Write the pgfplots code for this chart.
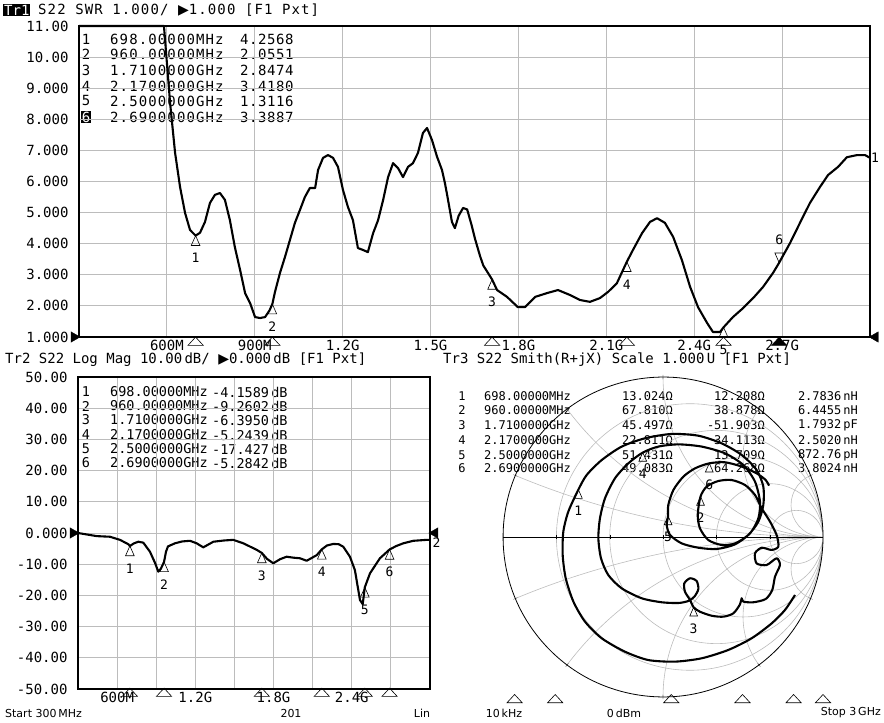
\documentclass[border=0pt]{standalone}
\usepackage{fontspec}
\setmainfont{DejaVu Sans}
\newfontfamily\mono{DejaVu Sans Mono}
\newfontfamily\symf{DejaVu Sans}
\usepackage{pgfplots}
\pgfplotsset{compat=1.18}
\usepgfplotslibrary{smithchart}
\definecolor{gridgray}{RGB}{188,188,188}
\newcommand\mt{\mono\fontsize{14}{16}\selectfont}
\newcommand\bt{\mono\fontsize{13.5}{16}\selectfont}
\newcommand\st{\mono\fontsize{12}{14}\selectfont}
\pgfplotsset{
  vna/.style={
    scale only axis, anchor=south west, clip=false,
    axis line style={black, line width=1.3pt},
    grid=major, major grid style={gridgray, line width=0.8pt},
    major tick length=0pt, tick style={draw=none},
    ticklabel style={font=\mt},
    yticklabel style={xshift=-7pt},
    xmin=300, xmax=3000, xtick={600,900,...,2700},
  },
  trace/.style={black, line width=2.1pt, line join=round},
  mk/.style={only marks, mark=triangle, mark size=5pt,
    mark options={yshift=-6.5pt, yscale=1.3, fill=white, line width=0.6pt, draw=black},
    nodes near coords, point meta=explicit symbolic,
    every node near coord/.style={anchor=north, yshift=-10pt, font=\mono\fontsize{13}{14}\selectfont, inner sep=1pt}},
  rowmk/.style={only marks, mark=triangle, mark size=5.5pt, mark options={xscale=1.6, fill=white, line width=0.6pt, draw=black}},
}
\begin{document}
\begin{tikzpicture}[x=1pt,y=1pt]
\useasboundingbox (0,0) rectangle (884,723);
% ---------------- titles and tables ----------------
\node[fill=black, text=white, inner sep=1pt, anchor=west] at (3,713) {\mt Tr1};
\node[anchor=west, inner sep=0pt] at (38,713) {\mt\addfontfeature{LetterSpace=8} S22 SWR 1.000/ {\symf▶}1.000 [F1 Pxt]};
\node[anchor=west, inner sep=0pt] at (5,363) {\mt Tr2 S22 Log Mag 10.00\,dB/ {\symf▶}0.000\,dB [F1 Pxt]};
\node[anchor=west, inner sep=0pt] at (443,363) {\mt Tr3 S22 Smith(R+jX) Scale 1.000\,U [F1 Pxt]};
% top table
\foreach \n/\f/\v/\y in {1/698.00000MHz/4.2568/684, 2/960.00000MHz/2.0551/669, 3/1.7100000GHz/2.8474/653, 4/2.1700000GHz/3.4180/637, 5/2.5000000GHz/1.3116/622}{
  \node[inner sep=0pt] at (86,\y) {\mt \n};
  \node[anchor=west, inner sep=0pt] at (110,\y) {\mt\addfontfeature{LetterSpace=8} \f};
  \node[anchor=west, inner sep=0pt] at (240,\y) {\mt\addfontfeature{LetterSpace=4} \v};
}
\node[fill=black, text=white, inner sep=0.5pt] at (86,606) {\mt 6};
\node[anchor=west, inner sep=0pt] at (110,606) {\mt\addfontfeature{LetterSpace=8} 2.6900000GHz};
\node[anchor=west, inner sep=0pt] at (240,606) {\mt\addfontfeature{LetterSpace=4} 3.3887};
% bottom-left table
\foreach \n/\f/\v/\y in {1/698.00000MHz/-4.1589/331, 2/960.00000MHz/-9.2602/317, 3/1.7100000GHz/-6.3950/303, 4/2.1700000GHz/-5.2439/288, 5/2.5000000GHz/-17.427/274, 6/2.6900000GHz/-5.2842/260}{
  \node[inner sep=0pt] at (86,\y) {\bt \n};
  \node[anchor=west, inner sep=0pt] at (110,\y) {\bt \f};
  \node[anchor=west, inner sep=0pt] at (212,\y) {\bt \v\,dB};
}
% smith table
\foreach \n/\f/\r/\xx/\l/\y in {1/698.00000MHz/13.024/12.208/2.7836\,nH/327, 2/960.00000MHz/67.810/38.878/6.4455\,nH/313, 3/1.7100000GHz/45.497/-51.903/1.7932\,pF/298, 4/2.1700000GHz/22.811/34.113/2.5020\,nH/283, 5/2.5000000GHz/51.431/13.709/872.76\,pH/268, 6/2.6900000GHz/49.083/64.268/3.8024\,nH/255}{
  \node[inner sep=0pt] at (462,\y) {\st \n};
  \node[anchor=west, inner sep=0pt] at (484,\y) {\st \f};
  \node[anchor=east, inner sep=0pt] at (673,\y) {\st \r Ω};
  \node[anchor=east, inner sep=0pt] at (765,\y) {\st \xx Ω};
  \node[anchor=east, inner sep=0pt] at (858,\y) {\st \l};
}
% bottom line
\node[anchor=west, inner sep=0pt] at (5,10) {\fontsize{11}{12}\selectfont Start 300\,MHz};
\node[inner sep=0pt] at (291,10) {\fontsize{11}{12}\selectfont 201};
\node[inner sep=0pt] at (422,10) {\fontsize{11}{12}\selectfont Lin};
\node[inner sep=0pt] at (504,10) {\fontsize{11}{12}\selectfont 10\,kHz};
\node[inner sep=0pt] at (624,10) {\fontsize{11}{12}\selectfont 0\,dBm};
\node[anchor=east, inner sep=0pt] at (881,10) {\fontsize{11}{12}\selectfont Stop 3\,GHz};

% ---------------- Tr1: SWR ----------------
\begin{axis}[vna, at={(79pt,386pt)}, width=791pt, height=311pt,
  ymin=1, ymax=11, ytick={1,2,...,11},
  xticklabels={600M,900M,1.2G,1.5G,1.8G,2.1G,2.4G,2.7G},
  yticklabels={1.000,2.000,3.000,4.000,5.000,6.000,7.000,8.000,9.000,10.00,11.00}]
\addplot[trace] table[row sep=\\] {
f swr\\
300 11\\ 590 11\\ 611 8.52\\ 628 6.92\\ 645 5.82\\ 662 4.99\\ 679 4.44\\ 698 4.26\\
713 4.35\\ 730 4.70\\ 747 5.31\\ 764 5.57\\ 781 5.63\\ 798 5.41\\ 815 4.76\\ 832 3.89\\
850 3.15\\ 867 2.41\\ 884 2.09\\ 901 1.64\\ 918 1.61\\ 935 1.64\\ 950 1.85\\ 960 2.06\\
969 2.45\\ 986 3.06\\ 1003 3.57\\ 1020 4.12\\ 1037 4.67\\ 1054 5.08\\ 1071 5.50\\ 1088 5.79\\
1106 5.79\\ 1116 6.37\\ 1133 6.76\\ 1150 6.85\\ 1167 6.76\\ 1184 6.47\\ 1201 5.73\\ 1218 5.18\\
1235 4.76\\ 1252 3.86\\ 1269 3.80\\ 1286 3.73\\ 1304 4.34\\ 1321 4.76\\ 1338 5.40\\ 1355 6.14\\
1372 6.59\\ 1389 6.43\\ 1406 6.14\\ 1423 6.47\\ 1440 6.59\\ 1457 6.92\\ 1474 7.56\\ 1488 7.72\\
1505 7.33\\ 1522 6.80\\ 1539 6.37\\ 1549 5.95\\ 1556 5.60\\ 1573 4.70\\ 1583 4.50\\ 1596 4.90\\
1611 5.15\\ 1625 5.10\\ 1640 4.60\\ 1652 4.15\\ 1669 3.60\\ 1680 3.30\\ 1710 2.85\\ 1727 2.51\\
1761 2.29\\ 1798 1.96\\ 1822 1.96\\ 1857 2.29\\ 1897 2.41\\ 1935 2.51\\ 1976 2.35\\ 2010 2.19\\
2044 2.13\\ 2078 2.25\\ 2106 2.45\\ 2136 2.73\\ 2170 3.42\\ 2191 3.80\\ 2222 4.34\\ 2249 4.70\\
2273 4.82\\ 2300 4.67\\ 2328 4.22\\ 2358 3.47\\ 2386 2.61\\ 2413 1.96\\ 2444 1.45\\ 2464 1.16\\
2488 1.16\\ 2500 1.31\\ 2532 1.64\\ 2567 1.93\\ 2601 2.25\\ 2635 2.61\\ 2669 3.06\\ 2690 3.39\\
2727 4.02\\ 2761 4.67\\ 2795 5.31\\ 2829 5.82\\ 2857 6.21\\ 2891 6.47\\ 2921 6.78\\ 2956 6.85\\
2983 6.85\\ 3000 6.76\\
};
\addplot[mk] coordinates {(698,4.2568)[1] (960,2.0551)[2] (1710,2.8474)[3] (2170,3.418)[4] (2500,1.3116)[5]};
\addplot[only marks, mark=triangle, mark size=5pt,
  mark options={yshift=6.5pt, yscale=1.3, rotate=180, fill=white, line width=0.6pt, draw=black},
  nodes near coords, point meta=explicit symbolic,
  every node near coord/.style={anchor=south, yshift=10pt, font=\mono\fontsize{13}{14}\selectfont, inner sep=1pt}]
  coordinates {(2690,3.3887)[6]};
\addplot[rowmk] coordinates {(698,0.82) (960,0.82) (1710,0.82) (2170,0.82) (2500,0.82)};
\addplot[only marks, mark=triangle*, mark size=5.5pt, mark options={xscale=1.6, black}] coordinates {(2690,0.82)};
\addplot[only marks, mark=triangle*, mark size=6pt, mark options={rotate=-90, black}] coordinates {(283,1)};
\addplot[only marks, mark=triangle*, mark size=6pt, mark options={rotate=90, black}] coordinates {(3018,1)};
\node[anchor=west, inner sep=1pt, font=\mono\fontsize{13}{14}\selectfont] at (axis cs:3000,6.76) {1};
\end{axis}

% ---------------- Tr2: Log Mag ----------------
\begin{axis}[vna, at={(78pt,34pt)}, width=352pt, height=312pt,
  ymin=-50, ymax=50, ytick={-50,-40,...,50},
  xticklabels={600M,,1.2G,,1.8G,,2.4G,},
  yticklabels={-50.00,-40.00,-30.00,-20.00,-10.00,0.000,10.00,20.00,30.00,40.00,50.00}]
\addplot[trace] table[row sep=\\] {
f db\\
300 0\\ 443 -1.0\\ 545 -1.2\\ 622 -2.2\\ 686 -3.6\\ 698 -4.16\\ 730 -3.3\\ 763 -2.8\\ 801 -3.1\\
852 -6.0\\ 891 -9.6\\ 916 -12.4\\ 935 -11.5\\ 960 -9.26\\ 975 -6.0\\ 990 -4.3\\ 1044 -3.3\\
1100 -2.7\\ 1159 -2.5\\ 1210 -3.3\\ 1261 -4.6\\ 1338 -2.8\\ 1420 -2.4\\ 1491 -2.2\\ 1568 -3.3\\
1671 -5.4\\ 1710 -6.4\\ 1750 -8.3\\ 1798 -9.7\\ 1850 -8.4\\ 1900 -7.6\\ 1950 -7.9\\ 2003 -8.1\\
2054 -8.9\\ 2131 -7.1\\ 2170 -5.24\\ 2210 -4.0\\ 2258 -3.5\\ 2300 -3.6\\ 2335 -4.4\\ 2386 -7.6\\
2424 -11.9\\ 2463 -21.5\\ 2484 -22.8\\ 2500 -17.4\\ 2540 -12.9\\ 2616 -8.1\\ 2690 -5.28\\
2740 -4.2\\ 2795 -3.3\\ 2872 -2.5\\ 2974 -2.2\\ 3000 -2.2\\
};
\addplot[mk] coordinates {(698,-4.1589)[1] (960,-9.2602)[2] (1710,-6.395)[3] (2170,-5.2439)[4] (2500,-17.427)[5] (2690,-5.2842)[6]};
\addplot[rowmk] coordinates {(698,-51.5) (960,-51.5) (1710,-51.5) (2170,-51.5) (2500,-51.5) (2690,-51.5)};
\addplot[only marks, mark=triangle*, mark size=6pt, mark options={rotate=-90, black}] coordinates {(262,0)};
\addplot[only marks, mark=triangle*, mark size=6pt, mark options={rotate=90, black}] coordinates {(3038,0)};
\node[anchor=west, inner sep=1pt, font=\mono\fontsize{13}{14}\selectfont] at (axis cs:3010,-3) {2};
\end{axis}

% ---------------- Tr3: Smith ----------------
\begin{smithchart}[at={(663pt,186pt)}, anchor=center, scale only axis, width=320pt,
  xtick={0.2,0.5,1,2,5}, ytick={-5,-2,-1,-0.5,-0.2,0.2,0.5,1,2,5},
  xticklabels={}, yticklabels={},
  major grid style={gridgray, line width=0.6pt},
  axis line style={black, line width=0.8pt}, tick style={draw=none}, clip=false]
\addplot[is smithchart cs, black, line width=0.8pt] coordinates {(-1,0) (1,0)};
\addplot[is smithchart cs, trace, smooth, tension=0.45] coordinates {
(0.825,-0.3625) (0.7625,-0.456) (0.679,-0.540) (0.554,-0.633) (0.408,-0.706) (0.242,-0.758)
(0.075,-0.779) (-0.092,-0.769) (-0.2375,-0.717) (-0.383,-0.633) (-0.4875,-0.529) (-0.560,-0.404)
(-0.608,-0.258) (-0.627,-0.1125) (-0.623,0.033) (-0.592,0.158) (-0.529,0.296)
(-0.477,0.3875) (-0.383,0.481) (-0.258,0.565) (-0.1125,0.617) (0.054,0.644) (0.221,0.633)
(0.367,0.585) (0.492,0.5125) (0.585,0.419) (0.627,0.315) (0.627,0.2) (0.596,0.096)
(0.533,0.0125) (0.45,-0.04) (0.367,-0.05) (0.283,-0.019) (0.231,0.054) (0.217,0.1375)
(0.2345,0.2527)
(0.273,0.315) (0.346,0.35) (0.429,0.356) (0.5125,0.325) (0.575,0.2625) (0.617,0.179)
(0.669,0.096) (0.710,0.0125) (0.721,-0.06) (0.679,-0.081) (0.617,-0.067) (0.575,-0.102)
(0.585,-0.165) (0.648,-0.175) (0.710,-0.133) (0.731,-0.175) (0.7,-0.248) (0.683,-0.331)
(0.642,-0.3875) (0.565,-0.408) (0.502,-0.404) (0.492,-0.383) (0.481,-0.421) (0.44,-0.477)
(0.377,-0.498) (0.304,-0.492) (0.231,-0.467) (0.1916,-0.4394)
(0.169,-0.394) (0.1375,-0.342) (0.133,-0.29) (0.169,-0.258) (0.21,-0.275) (0.221,-0.325)
(0.196,-0.373) (0.158,-0.4) (0.096,-0.4125) (-0.008,-0.408) (-0.133,-0.383) (-0.258,-0.321)
(-0.342,-0.2375) (-0.3875,-0.133) (-0.404,-0.008) (-0.394,0.117) (-0.3625,0.242) (-0.3,0.367)
(-0.217,0.46) (-0.1265,0.5277)
(-0.029,0.565) (0.096,0.579) (0.242,0.565) (0.3875,0.523) (0.502,0.45) (0.575,0.346)
(0.606,0.221) (0.596,0.117) (0.544,0.023) (0.45,-0.046) (0.335,-0.075) (0.221,-0.067)
(0.117,-0.04) (0.044,0.0125) (0.023,0.075) (0.0318,0.1309)
(0.033,0.2) (0.065,0.294) (0.127,0.377) (0.2,0.429) (0.2892,0.4605) (0.3875,0.467)
(0.492,0.44) (0.585,0.398) (0.642,0.356) (0.6625,0.321)
};
\addplot[is smithchart cs, only marks, mark=triangle, mark size=4.5pt,
  mark options={yshift=-5.8pt, yscale=1.3, fill=white, line width=0.6pt, draw=black},
  nodes near coords, point meta=explicit symbolic,
  every node near coord/.style={anchor=north, yshift=-9pt, font=\mono\fontsize{13}{14}\selectfont, inner sep=1pt}]
  coordinates {(-0.529,0.296)[1] (0.2345,0.2527)[2] (0.1916,-0.4394)[3] (-0.1265,0.5277)[4] (0.0318,0.1309)[5] (0.2892,0.4605)[6]};
\end{smithchart}

% marker row under the Smith chart
\begin{axis}[hide axis, scale only axis, anchor=south west, at={(453pt,18pt)}, width=418pt, height=10pt,
  xmin=300, xmax=3000, ymin=0, ymax=1, clip=false]
\addplot[rowmk] coordinates {(698,0.5) (960,0.5) (1710,0.5) (2170,0.5) (2500,0.5) (2690,0.5)};
\end{axis}
\end{tikzpicture}
\end{document}
